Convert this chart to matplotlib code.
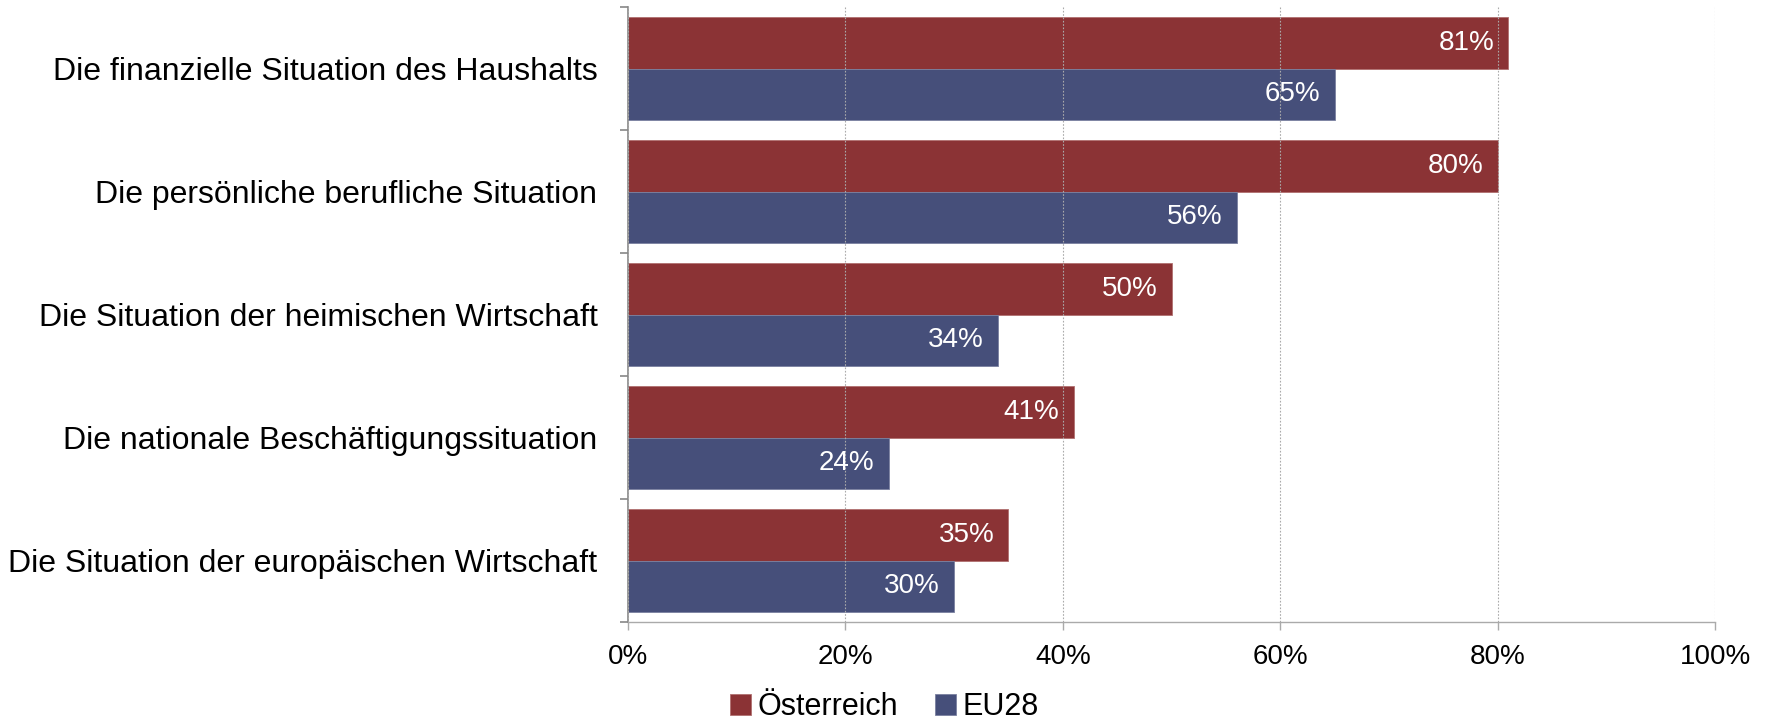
import matplotlib
matplotlib.use("Agg")
import matplotlib.pyplot as plt
import numpy as np

categories = [
    "Die finanzielle Situation des Haushalts",
    "Die persönliche berufliche Situation",
    "Die Situation der heimischen Wirtschaft",
    "Die nationale Beschäftigungssituation",
    "Die Situation der europäischen Wirtschaft",
]
oesterreich = [81, 80, 50, 41, 35]
eu28 = [65, 56, 34, 24, 30]
series_names = ["Österreich", "EU28"]
colors = ["#8B3335", "#464F7A"]

plt.rcParams["font.family"] = ["Liberation Sans", "DejaVu Sans"]

fig = plt.figure(figsize=(17.68, 7.24), dpi=100)
ax = fig.add_axes([628 / 1768, 1 - 622 / 724, (1715 - 628) / 1768, (622 - 7) / 724])

y = np.arange(len(categories))
h = 0.42
b1 = ax.barh(y - h / 2, oesterreich, height=h, color=colors[0], edgecolor="#B07070",
             linewidth=0.6, label=series_names[0], zorder=2)
b2 = ax.barh(y + h / 2, eu28, height=h, color=colors[1], edgecolor="#7A80A0",
             linewidth=0.6, label=series_names[1], zorder=2)

for bars, vals in ((b1, oesterreich), (b2, eu28)):
    for bar, v in zip(bars, vals):
        ax.text(v - 1.3, bar.get_y() + bar.get_height() / 2, f"{v}%",
                ha="right", va="center", color="white", fontsize=20, zorder=3)

ax.set_xlim(0, 100)
ax.set_ylim(len(categories) - 0.5, -0.5)
ax.set_xticks(np.arange(0, 101, 20))
ax.set_xticklabels([f"{t}%" for t in range(0, 101, 20)], fontsize=20)
ax.set_yticks(y)
ax.set_yticklabels(categories, fontsize=23)
ax.set_yticks(np.arange(-0.5, len(categories), 1), minor=True)
ax.tick_params(axis="y", which="major", length=0, pad=22)
ax.tick_params(axis="y", which="minor", length=6, width=1.2, color="#888888")
ax.tick_params(axis="x", length=6, width=1.0, color="#AAAAAA", pad=10)

ax.grid(axis="x", linestyle=(0, (1.5, 1.5)), color="#AAAAAA", linewidth=0.8, zorder=2.5)
ax.set_axisbelow(False)
for s in ("top", "right"):
    ax.spines[s].set_visible(False)
ax.spines["left"].set_color("#888888")
ax.spines["left"].set_linewidth(1.2)
ax.spines["bottom"].set_color("#AAAAAA")
ax.spines["bottom"].set_linewidth(1.0)

fig.legend(handles=[b1, b2], labels=series_names, loc="center",
           bbox_to_anchor=(0.5, 1 - 707 / 724), ncol=2, frameon=False,
           fontsize=22, handlelength=0.7, handleheight=0.7, handletextpad=0.2,
           columnspacing=1.2)

fig.savefig("out.png", dpi=100)
